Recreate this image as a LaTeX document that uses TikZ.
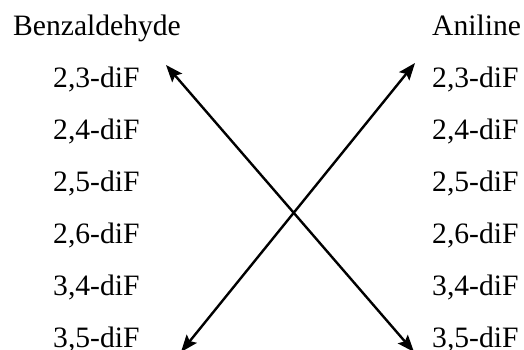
\documentclass[tikz,border=0pt]{standalone}
\usepackage{fontspec}
\setmainfont{Liberation Serif}
\usetikzlibrary{arrows.meta,positioning}

\begin{document}
\begin{tikzpicture}[x=1pt,y=1pt,
    lbl/.style={anchor=base west, inner sep=0pt, font=\fontsize{29.6}{32}\selectfont},
    cross/.style={line width=2.4pt,
      {Stealth[length=17pt,width=13pt,inset=3pt]}-{Stealth[length=17pt,width=13pt,inset=3pt]}}]
  \useasboundingbox (0,0) rectangle (524,350);
  % Column headers
  \node[lbl] (benz) at (13,314) {Benzaldehyde};
  \node[lbl] (anil) at (432,314) {Aniline};
  % Substitution patterns
  \foreach \a/\b [count=\i] in {2/3,2/4,2/5,2/6,3/4,3/5} {
    \node[lbl] (b\a\b) at (53,314-52*\i) {\a,\b-diF};
    \node[lbl] (a\a\b) at (432,314-52*\i) {\a,\b-diF};
  }
  % Arrow ends
  \coordinate (btop) at (166,285);
  \coordinate (bbot) at (181,-2);
  \coordinate (atop) at (415,287);
  \coordinate (abot) at (414,-2);
  % Crossing arrows
  \draw[cross] (btop) -- (abot);
  \draw[cross] (atop) -- (bbot);
\end{tikzpicture}
\end{document}
